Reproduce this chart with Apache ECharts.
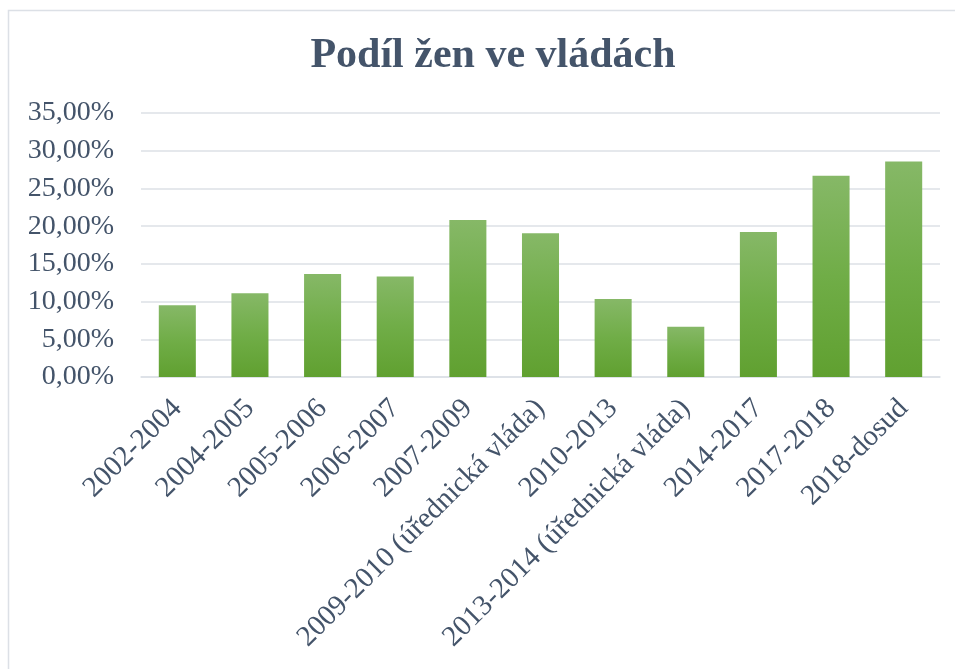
<!DOCTYPE html>
<html>
<head>
<meta charset="utf-8">
<title>Podíl žen ve vládách</title>
<script src="https://cdn.jsdelivr.net/npm/echarts@6/dist/echarts.min.js"></script>
<style>
  html, body { margin: 0; padding: 0; background: #fff; }
  #chart { width: 955px; height: 669px; }
</style>
</head>
<body>
<div id="chart"></div>
<script>
  var titleText = 'Podíl žen ve vládách';

  var categories = [
    '2002-2004', '2004-2005', '2005-2006', '2006-2007', '2007-2009',
    '2009-2010 (úřednická vláda)', '2010-2013', '2013-2014 (úřednická vláda)',
    '2014-2017', '2017-2018', '2018-dosud'
  ];

  // podíl v procentech
  var shares = [9.52, 11.11, 13.64, 13.33, 20.83, 19.05, 10.34, 6.67, 19.23, 26.67, 28.57];

  var yMin = 0;
  var yMax = 35;
  var yStep = 5;

  var textColor = '#44546A';
  var serif = '"Liberation Serif", "Times New Roman", serif';

  var chart = echarts.init(document.getElementById('chart'));

  chart.setOption({
    animation: false,
    title: {
      text: titleText,
      left: 488,
      textAlign: 'center',
      top: 30,
      textStyle: {
        fontFamily: serif,
        fontSize: 42,
        fontWeight: 'bold',
        color: textColor
      }
    },
    graphic: [{
      type: 'rect',
      shape: { x: 8.5, y: 10.5, width: 1000, height: 700 },
      style: { fill: 'none', stroke: '#DCE0E6', lineWidth: 1.5 },
      silent: true
    }],
    grid: {
      left: 141,
      right: 15,
      top: 113,
      bottom: 292
    },
    xAxis: {
      type: 'category',
      data: categories,
      axisTick: { show: false },
      axisLine: { lineStyle: { color: '#DCE0E6', width: 1.5 } },
      axisLabel: {
        interval: 0,
        rotate: 45,
        margin: 27,
        fontFamily: serif,
        fontSize: 29,
        color: textColor
      }
    },
    yAxis: {
      type: 'value',
      min: yMin,
      max: yMax,
      interval: yStep,
      axisLine: { show: false },
      axisTick: { show: false },
      splitLine: { lineStyle: { color: '#DCE0E6', width: 1.5 } },
      axisLabel: {
        margin: 27,
        fontFamily: serif,
        fontSize: 28,
        color: textColor,
        formatter: function (v) {
          return v.toFixed(2).replace('.', ',') + '%';
        }
      }
    },
    series: [{
      type: 'bar',
      data: shares,
      barWidth: '51%',
      itemStyle: {
        color: new echarts.graphic.LinearGradient(0, 0, 0, 1, [
          { offset: 0, color: '#86B867' },
          { offset: 0.5, color: '#70AD47' },
          { offset: 1, color: '#60A030' }
        ])
      }
    }]
  });
</script>
</body>
</html>
